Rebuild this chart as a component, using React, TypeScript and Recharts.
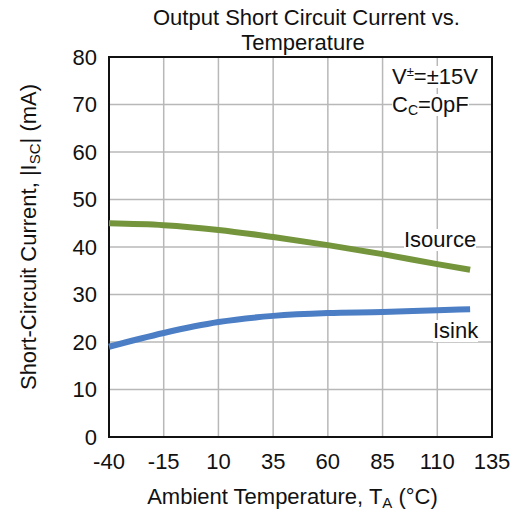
import React from "react";
import { LineChart, Line, XAxis, YAxis, CartesianGrid, ReferenceArea } from "recharts";

const temps = [-40, -15, 10, 35, 60, 85, 110, 125];
const isource = [45.0, 44.6, 43.6, 42.1, 40.4, 38.5, 36.4, 35.2];
const isink = [19.0, 21.9, 24.2, 25.5, 26.1, 26.3, 26.7, 26.9];
const xTicks = [-40, -15, 10, 35, 60, 85, 110, 135];
const yTicks = [0, 10, 20, 30, 40, 50, 60, 70, 80];

const data = temps.map((t, i) => ({ t, isource: isource[i], isink: isink[i] }));

const FONT = "'Liberation Sans', Arial, sans-serif";
const FS = 22;

const XLabel = (props: any) => {
  const vb = props.viewBox;
  const cx = vb.x + vb.width / 2 - 8;
  return (
    <text x={cx} y={504} textAnchor="middle" fontSize={FS} fill="#111" fontFamily={FONT}>
      Ambient Temperature, T
      <tspan fontSize={15} dy={4}>A</tspan>
      <tspan dy={-4}> (°C)</tspan>
    </text>
  );
};

const YLabel = (props: any) => {
  const vb = props.viewBox;
  const cy = 237;
  const cx = 36;
  return (
    <text
      x={cx}
      y={cy}
      textAnchor="middle"
      fontSize={FS}
      fill="#111"
      fontFamily={FONT}
      transform={`rotate(-90 ${cx} ${cy})`}
    >
      Short-Circuit Current, |I
      <tspan fontSize={15} dy={4}>SC</tspan>
      <tspan dy={-4}>| (mA)</tspan>
    </text>
  );
};

const textStyle: React.CSSProperties = {
  position: "absolute",
  fontFamily: FONT,
  fontSize: FS,
  color: "#111",
  background: "#fff",
  lineHeight: "22px",
  whiteSpace: "nowrap",
};

export default function App() {
  return (
    <div style={{ position: "absolute", left: 0, top: 0, width: 518, height: 513, background: "#fff" }}>
      <LineChart
        width={518}
        height={513}
        data={data}
        margin={{ top: 57, right: 26, bottom: 0, left: 0 }}
      >
        <CartesianGrid stroke="#b8b8b8" strokeWidth={1.5} />
        <XAxis
          dataKey="t"
          type="number"
          domain={[-40, 135]}
          ticks={xTicks}
          interval={0}
          height={76}
          tickSize={0}
          tickMargin={16}
          axisLine={false}
          tick={{ fontSize: FS, fill: "#111", fontFamily: FONT }}
          label={<XLabel />}
        />
        <YAxis
          type="number"
          domain={[0, 80]}
          ticks={yTicks}
          interval={0}
          width={109}
          tickSize={0}
          tickMargin={12}
          axisLine={false}
          tick={{ fontSize: FS, fill: "#111", fontFamily: FONT }}
          label={<YLabel />}
        />
        <Line
          dataKey="isource"
          type="monotone"
          stroke="#74953c"
          strokeWidth={6}
          dot={false}
          isAnimationActive={false}
        />
        <Line
          dataKey="isink"
          type="monotone"
          stroke="#4b7ec4"
          strokeWidth={6}
          dot={false}
          isAnimationActive={false}
        />
        <ReferenceArea
          x1={-40}
          x2={135}
          y1={0}
          y2={80}
          fill="none"
          fillOpacity={0}
          stroke="#111"
          strokeWidth={2}
          ifOverflow="visible"
        />
      </LineChart>
      <div
        style={{
          position: "absolute",
          left: 153,
          width: 300,
          top: 5,
          textAlign: "center",
          fontFamily: FONT,
          fontSize: FS,
          lineHeight: "25px",
          color: "#111",
          whiteSpace: "nowrap",
        }}
      >
        Output Short Circuit Current vs.
        <br />
        Temperature
      </div>
      <div style={{ ...textStyle, left: 392, top: 66 }}>
        V<sup style={{ fontSize: 13, verticalAlign: "8px", lineHeight: 0 }}>±</sup>=±15V
      </div>
      <div style={{ ...textStyle, left: 392, top: 94 }}>
        C<sub style={{ fontSize: 14, verticalAlign: "-3px", lineHeight: 0 }}>C</sub>=0pF
      </div>
      <div style={{ ...textStyle, left: 404, top: 229 }}>Isource</div>
      <div style={{ ...textStyle, left: 433, top: 320 }}>Isink</div>
    </div>
  );
}
